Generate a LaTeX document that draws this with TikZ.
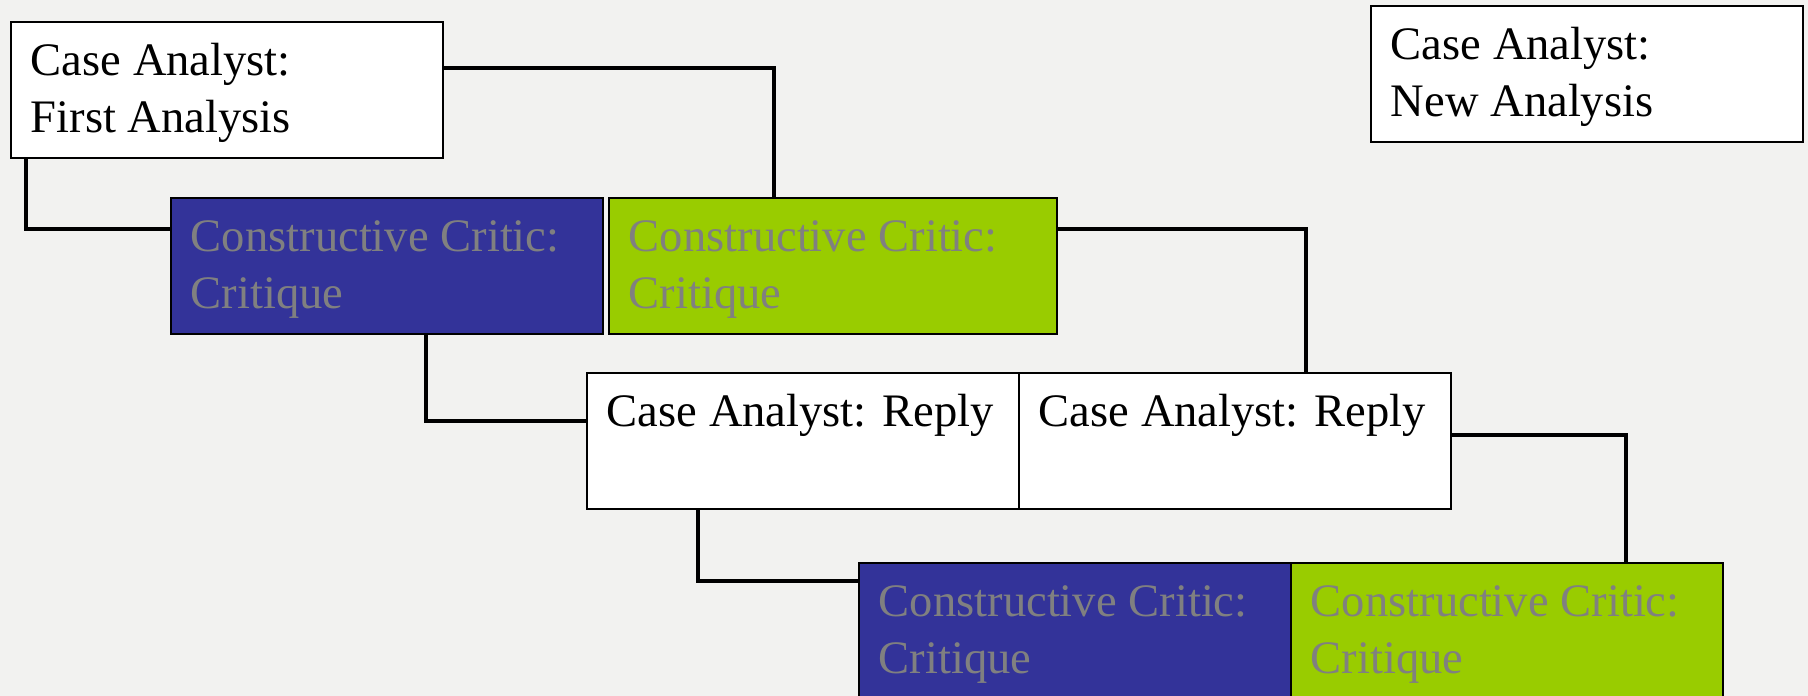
\documentclass[tikz,border=0pt]{standalone}
\usepackage{fontspec}
\setmainfont{Liberation Serif}

\definecolor{pagebg}{RGB}{242,242,240}
\definecolor{critblue}{RGB}{51,51,153}
\definecolor{critgreen}{RGB}{153,204,0}
\definecolor{crittext}{RGB}{128,128,128}

\begin{document}
\begin{tikzpicture}[
		card/.style={rectangle, draw=black, line width=1pt, anchor=north west,
			font=\fontsize{26.5pt}{32.5pt}\selectfont, align=flush left,
			execute at begin node={\hyphenpenalty=10000},
			text width=7.84cm, inner xsep=0.4cm, inner ysep=0pt,
			text height=1.08cm, text depth=1.64cm},
		analyst/.style={card, fill=white, text=black},
		bluecrit/.style={card, fill=critblue, text=crittext},
		greencrit/.style={card, fill=critgreen, text=crittext},
		link/.style={draw=black, line width=2.6pt}
	]
		\path[use as bounding box, fill=pagebg] (0,0) rectangle (36.16,-13.92);
		% analistas
		\node[analyst] (CA01) at (0.20,-0.42) {Case Analyst:\\First Analysis};
		\node[analyst] (CA04) at (27.40,-0.10) {Case Analyst:\\New Analysis};
		% linha 1
		\node[bluecrit] (CC01) at (3.40,-3.94) {Constructive Critic:\\Critique};
		\node[greencrit, text width=8.16cm] (CC02) at (12.16,-3.94) {Constructive Critic:\\Critique};
		% linha 2
		\node[analyst] (CA02) at (11.72,-7.44) {Case Analyst: Reply};
		\node[analyst] (CA03) at (20.36,-7.44) {Case Analyst: Reply};
		% linha 3
		\node[bluecrit] (CC03) at (17.16,-11.24) {Constructive Critic:\\Critique};
		\node[greencrit] (CC04) at (25.80,-11.24) {Constructive Critic:\\Critique};
		% ligações
		\draw[link] ([xshift=0.32cm]CA01.south west) |- ([yshift=-0.64cm]CC01.north west);
		\draw[link] ([yshift=-0.94cm]CA01.north east) -| ([xshift=3.32cm]CC02.north west);
		\draw[link] ([yshift=-0.64cm]CC02.north east) -| ([xshift=5.76cm]CA03.north west);
		\draw[link] ([xshift=5.12cm]CC01.south west) |- ([yshift=-0.98cm]CA02.north west);
		\draw[link] ([xshift=2.24cm]CA02.south west) |- ([yshift=-0.38cm]CC03.north west);
		\draw[link] ([yshift=-1.26cm]CA03.north east) -| ([xshift=6.72cm]CC04.north west);
	\end{tikzpicture}
\end{document}
